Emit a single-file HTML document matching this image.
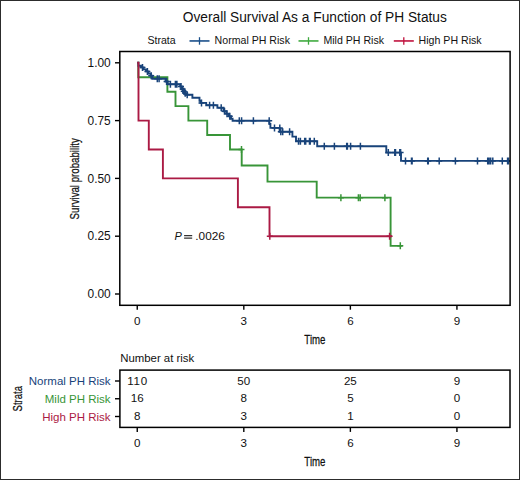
<!DOCTYPE html>
<html><head><meta charset="utf-8"><style>
html,body{margin:0;padding:0;background:#fff;}
svg{display:block;font-family:"Liberation Sans",sans-serif;}
</style></head><body>
<svg width="520" height="480" viewBox="0 0 520 480">
<defs><clipPath id="clip"><rect x="119.8" y="51.5" width="390.3" height="253.8"/></clipPath></defs>
<rect width="520" height="480" fill="#fff"/>
<rect x="0.5" y="0.5" width="519" height="479" fill="none" stroke="#2c2c2c" stroke-width="1"/>
<text transform="translate(314.8,21.9) scale(0.955,1)" font-size="14.4" text-anchor="middle" fill="#111">Overall Survival As a Function of PH Status</text>
<text x="147.4" y="44.4" font-size="10.6" fill="#111">Strata</text>
<path d="M189.5,40.95 H209.5" stroke="#1a4f8a" stroke-width="1.6" fill="none"/>
<path d="M199.5,37.2 V44.7" stroke="#1a4f8a" stroke-width="1.3" fill="none"/>
<text x="214.6" y="44.4" font-size="10.6" fill="#111">Normal PH Risk</text>
<path d="M298.5,40.95 H318.5" stroke="#3faa3f" stroke-width="1.6" fill="none"/>
<path d="M308.5,37.2 V44.7" stroke="#3faa3f" stroke-width="1.3" fill="none"/>
<text x="323.4" y="44.4" font-size="10.6" fill="#111">Mild PH Risk</text>
<path d="M393.8,40.95 H413.8" stroke="#c0123e" stroke-width="1.6" fill="none"/>
<path d="M403.8,37.2 V44.7" stroke="#c0123e" stroke-width="1.3" fill="none"/>
<text x="418.6" y="44.4" font-size="10.6" fill="#111">High PH Risk</text>
<g clip-path="url(#clip)" fill="none">
<path d="M137.25,62.80H138.30V77.25H167.40V91.70H175.50V106.15H188.40V120.60H207.20V135.05H230.00V149.50H241.70V165.56H267.50V181.61H316.70V197.67H390.60V245.83H402.60" stroke="#389538" stroke-width="1.9"/>
<path d="M241.50,146.00V153.00M238.50,149.50H244.50M340.90,194.17V201.17M337.90,197.67H343.90M358.40,194.17V201.17M355.40,197.67H361.40M360.20,194.17V201.17M357.20,197.67H363.20M384.90,194.17V201.17M381.90,197.67H387.90M400.30,242.33V249.33M397.30,245.83H403.30" stroke="#389538" stroke-width="1.5"/>
<path d="M137.25,62.80H138.40V65.80H141.00V67.40H143.60V69.40H146.00V71.40H148.50V73.60H150.60V75.80H152.40V78.80H165.60V81.50H167.60V84.20H180.20V86.60H181.60V88.90H183.00V91.20H184.50V93.20H185.80V94.80H192.40V97.80H199.50V100.80H200.50V102.90H206.20V105.20H217.40V107.70H223.50V111.20H226.30V113.80H228.80V116.30H231.00V118.80H232.60V120.80H269.40V124.00H270.40V127.90H279.60V131.80H292.40V136.60H296.00V141.20H317.20V146.20H386.30V152.60H401.00V160.90H511.00" stroke="#18437a" stroke-width="1.9"/>
<path d="M142.50,63.90V70.90M139.50,67.40H145.50M147.40,67.90V74.90M144.40,71.40H150.40M151.20,72.30V79.30M148.20,75.80H154.20M157.30,75.30V82.30M154.30,78.80H160.30M159.10,75.30V82.30M156.10,78.80H162.10M166.60,78.00V85.00M163.60,81.50H169.60M170.40,80.70V87.70M167.40,84.20H173.40M175.40,80.70V87.70M172.40,84.20H178.40M176.90,80.70V87.70M173.90,84.20H179.90M181.00,83.10V90.10M178.00,86.60H184.00M182.60,85.40V92.40M179.60,88.90H185.60M183.80,87.70V94.70M180.80,91.20H186.80M185.20,89.70V96.70M182.20,93.20H188.20M187.20,91.30V98.30M184.20,94.80H190.20M201.50,99.40V106.40M198.50,102.90H204.50M209.60,101.70V108.70M206.60,105.20H212.60M213.40,101.70V108.70M210.40,105.20H216.40M221.20,104.20V111.20M218.20,107.70H224.20M224.50,107.70V114.70M221.50,111.20H227.50M227.00,110.30V117.30M224.00,113.80H230.00M229.80,112.80V119.80M226.80,116.30H232.80M239.30,117.30V124.30M236.30,120.80H242.30M241.60,117.30V124.30M238.60,120.80H244.60M253.40,117.30V124.30M250.40,120.80H256.40M269.20,117.30V124.30M266.20,120.80H272.20M274.50,124.40V131.40M271.50,127.90H277.50M279.80,124.40V131.40M276.80,127.90H282.80M280.80,128.30V135.30M277.80,131.80H283.80M282.70,128.30V135.30M279.70,131.80H285.70M289.60,128.30V135.30M286.60,131.80H292.60M298.50,137.70V144.70M295.50,141.20H301.50M300.40,137.70V144.70M297.40,141.20H303.40M304.70,137.70V144.70M301.70,141.20H307.70M305.70,137.70V144.70M302.70,141.20H308.70M309.50,137.70V144.70M306.50,141.20H312.50M310.20,137.70V144.70M307.20,141.20H313.20M314.30,137.70V144.70M311.30,141.20H317.30M324.30,142.70V149.70M321.30,146.20H327.30M334.40,142.70V149.70M331.40,146.20H337.40M346.70,142.70V149.70M343.70,146.20H349.70M347.40,142.70V149.70M344.40,146.20H350.40M350.60,142.70V149.70M347.60,146.20H353.60M360.40,142.70V149.70M357.40,146.20H363.40M388.30,149.10V156.10M385.30,152.60H391.30M394.80,149.10V156.10M391.80,152.60H397.80M395.50,149.10V156.10M392.50,152.60H398.50M399.80,149.10V156.10M396.80,152.60H402.80M400.60,149.10V156.10M397.60,152.60H403.60M405.50,157.40V164.40M402.50,160.90H408.50M411.50,157.40V164.40M408.50,160.90H414.50M412.10,157.40V164.40M409.10,160.90H415.10M427.70,157.40V164.40M424.70,160.90H430.70M428.30,157.40V164.40M425.30,160.90H431.30M439.20,157.40V164.40M436.20,160.90H442.20M455.40,157.40V164.40M452.40,160.90H458.40M477.50,157.40V164.40M474.50,160.90H480.50M487.70,157.40V164.40M484.70,160.90H490.70M489.10,157.40V164.40M486.10,160.90H492.10M490.70,157.40V164.40M487.70,160.90H493.70M492.80,157.40V164.40M489.80,160.90H495.80M502.30,157.40V164.40M499.30,160.90H505.30M507.60,157.40V164.40M504.60,160.90H510.60M508.50,157.40V164.40M505.50,160.90H511.50" stroke="#18437a" stroke-width="1.5"/>
<path d="M137.25,62.80H138.50V120.60H148.80V149.50H162.90V178.40H237.90V207.30H269.50V236.20H392.00" stroke="#ab1a44" stroke-width="1.9"/>
<path d="M269.80,232.70V239.70M266.80,236.20H272.80M389.60,232.70V239.70M386.60,236.20H392.60" stroke="#ab1a44" stroke-width="1.5"/>
</g>
<rect x="119.8" y="51.5" width="390.3" height="253.8" fill="none" stroke="#000" stroke-width="1.5"/>
<path d="M115,62.80H119.8" stroke="#000" stroke-width="1.4"/>
<text x="110.7" y="66.90" font-size="11.9" text-anchor="end" fill="#111">1.00</text>
<path d="M115,120.60H119.8" stroke="#000" stroke-width="1.4"/>
<text x="110.7" y="124.70" font-size="11.9" text-anchor="end" fill="#111">0.75</text>
<path d="M115,178.40H119.8" stroke="#000" stroke-width="1.4"/>
<text x="110.7" y="182.50" font-size="11.9" text-anchor="end" fill="#111">0.50</text>
<path d="M115,236.20H119.8" stroke="#000" stroke-width="1.4"/>
<text x="110.7" y="240.30" font-size="11.9" text-anchor="end" fill="#111">0.25</text>
<path d="M115,294.00H119.8" stroke="#000" stroke-width="1.4"/>
<text x="110.7" y="298.10" font-size="11.9" text-anchor="end" fill="#111">0.00</text>
<path d="M137.25,305.3V309.7" stroke="#000" stroke-width="1.4"/>
<text x="137.25" y="324.5" font-size="11.6" text-anchor="middle" fill="#111">0</text>
<path d="M243.81,305.3V309.7" stroke="#000" stroke-width="1.4"/>
<text x="243.81" y="324.5" font-size="11.6" text-anchor="middle" fill="#111">3</text>
<path d="M350.37,305.3V309.7" stroke="#000" stroke-width="1.4"/>
<text x="350.37" y="324.5" font-size="11.6" text-anchor="middle" fill="#111">6</text>
<path d="M456.93,305.3V309.7" stroke="#000" stroke-width="1.4"/>
<text x="456.93" y="324.5" font-size="11.6" text-anchor="middle" fill="#111">9</text>
<text transform="translate(314.9,343.6) scale(0.71,1)" font-size="13.6" text-anchor="middle" fill="#111" stroke="#111" stroke-width="0.25">Time</text>
<text transform="translate(79.2,178.8) rotate(-90) scale(0.745,1)" font-size="13" text-anchor="middle" fill="#111" stroke="#111" stroke-width="0.25">Survival probability</text>
<text x="174.6" y="240.0" font-size="11" font-style="italic" fill="#111">P</text>
<path d="M184.1,235.6H192.2M184.1,238.1H192.2" stroke="#333" stroke-width="1.2"/>
<text x="195.3" y="240.0" font-size="11.8" fill="#111">.0026</text>
<text x="120.2" y="362.4" font-size="11.4" fill="#111">Number at risk</text>
<rect x="119.9" y="370.1" width="390.1" height="57.3" fill="none" stroke="#000" stroke-width="1.5"/>
<path d="M115,381.0H119.9" stroke="#000" stroke-width="1.4"/>
<text x="110.6" y="385.00" font-size="11.5" text-anchor="end" fill="#18437a">Normal PH Risk</text>
<text x="137.60" y="384.60" font-size="11.6" text-anchor="middle" fill="#111" letter-spacing="0.7">110</text>
<text x="243.81" y="384.60" font-size="11.6" text-anchor="middle" fill="#111">50</text>
<text x="350.37" y="384.60" font-size="11.6" text-anchor="middle" fill="#111">25</text>
<text x="456.93" y="384.60" font-size="11.6" text-anchor="middle" fill="#111">9</text>
<path d="M115,398.75H119.9" stroke="#000" stroke-width="1.4"/>
<text x="110.6" y="402.75" font-size="11.5" text-anchor="end" fill="#389538">Mild PH Risk</text>
<text x="137.25" y="402.35" font-size="11.6" text-anchor="middle" fill="#111">16</text>
<text x="243.81" y="402.35" font-size="11.6" text-anchor="middle" fill="#111">8</text>
<text x="350.37" y="402.35" font-size="11.6" text-anchor="middle" fill="#111">5</text>
<text x="456.93" y="402.35" font-size="11.6" text-anchor="middle" fill="#111">0</text>
<path d="M115,416.5H119.9" stroke="#000" stroke-width="1.4"/>
<text x="110.6" y="420.50" font-size="11.5" text-anchor="end" fill="#ab1a44">High PH Risk</text>
<text x="137.25" y="420.10" font-size="11.6" text-anchor="middle" fill="#111">8</text>
<text x="243.81" y="420.10" font-size="11.6" text-anchor="middle" fill="#111">3</text>
<text x="350.37" y="420.10" font-size="11.6" text-anchor="middle" fill="#111">1</text>
<text x="456.93" y="420.10" font-size="11.6" text-anchor="middle" fill="#111">0</text>
<path d="M137.25,427.4V431.9" stroke="#000" stroke-width="1.4"/>
<text x="137.25" y="447.2" font-size="11.6" text-anchor="middle" fill="#111">0</text>
<path d="M243.81,427.4V431.9" stroke="#000" stroke-width="1.4"/>
<text x="243.81" y="447.2" font-size="11.6" text-anchor="middle" fill="#111">3</text>
<path d="M350.37,427.4V431.9" stroke="#000" stroke-width="1.4"/>
<text x="350.37" y="447.2" font-size="11.6" text-anchor="middle" fill="#111">6</text>
<path d="M456.93,427.4V431.9" stroke="#000" stroke-width="1.4"/>
<text x="456.93" y="447.2" font-size="11.6" text-anchor="middle" fill="#111">9</text>
<text transform="translate(314.9,465.8) scale(0.71,1)" font-size="13.6" text-anchor="middle" fill="#111" stroke="#111" stroke-width="0.25">Time</text>
<text transform="translate(22.4,398.7) rotate(-90) scale(0.72,1)" font-size="13.2" text-anchor="middle" fill="#111" stroke="#111" stroke-width="0.25">Strata</text>
</svg>
</body></html>
